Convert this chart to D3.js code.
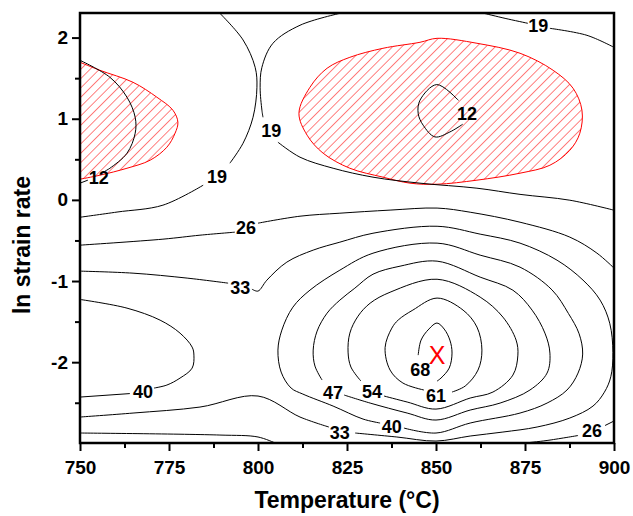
<!DOCTYPE html>
<html lang="en">
<head>
  <meta charset="UTF-8">
  <title>Processing map</title>
  <style>
    body { margin: 0; background: #fff; }
    text { font-family: "Liberation Sans", Arial, sans-serif; }
  </style>
</head>
<body>
  <svg id="svg" width="633" height="516"></svg>
  <script src="https://d3js.org/d3.v7.min.js"></script>
  <script>
    // axes: temperature (°C) and ln strain rate (ln 0.05 .. ln 10)
    const xDomain = [750, 900]
    const yDomain = [-2.996, 2.303]
    const xTicks = [750, 775, 800, 825, 850, 875, 900]
    const xMinor = [762.5, 787.5, 812.5, 837.5, 862.5, 887.5]
    const yTicks = [-2, -1, 0, 1, 2]
    const yMinor = [-2.5, -1.5, -0.5, 0.5, 1.5]

    // instability domains (hatched), [temperature, ln strain rate]
    const unstableLeft = [[750,1.696],[755.6,1.597],[764.9,1.449],[771.6,1.265],[776.1,1.105],[777.5,0.957],[776.7,0.821],[774.4,0.649],[769.7,0.489],[763.2,0.390],[755.6,0.304],[750,0.255]]
    const unstableRight = [[811.5,1.068],[814.6,1.388],[819.4,1.622],[825.8,1.757],[835.1,1.868],[845.5,1.942],[850.3,1.991],[861.5,1.930],[873.6,1.807],[882.9,1.597],[888.5,1.376],[891.0,1.105],[890.4,0.821],[887.6,0.612],[882.0,0.427],[873.6,0.329],[861.5,0.243],[850.3,0.193],[842.7,0.206],[835.1,0.280],[825.8,0.390],[818.3,0.575],[813.8,0.797]]

    // iso-efficiency lines, split where the value label sits
    const iso12a = [[750,1.720],[758.4,1.511],[763.2,1.265],[765.5,1.018],[765.5,0.821],[763.2,0.575],[758.4,0.390],[757.0,0.354]]
    const iso12b = [[752.2,0.243],[750,0.206]]
    const iso12c = [[856.3,1.226],[850.2,1.421],[845.5,1.228],[845.0,1.064],[846.4,0.920],[849.7,0.776],[853.9,0.837],[857.5,0.932]]
    const iso19a = [[789.3,2.299],[795.8,1.971],[799.2,1.634],[799.7,1.388],[798.6,1.018],[795.8,0.698],[792.1,0.452]]
    const iso19b = [[784.6,0.181],[773.3,-0.065],[760.4,-0.150],[750,-0.214]]
    const iso19c = [[823.0,2.299],[811.8,2.152],[804.2,1.930],[801.1,1.634],[800.6,1.388],[801.1,1.105],[801.4,1.018]]
    const iso19d = [[805.6,0.711],[811.8,0.526],[821.1,0.390],[832.3,0.280],[845.5,0.206],[861.5,0.144],[873.6,0.068],[887.6,-0.004],[900,-0.127]]
    const iso19e = [[863.5,2.299],[869.4,2.237],[875.8,2.176]]
    const iso19f = [[882.0,2.114],[892.4,2.028],[900,1.880]]
    const iso26a = [[750,-0.558],[773.3,-0.484],[783.7,-0.435],[793.5,-0.398]]
    const iso26b = [[800,-0.287],[811.8,-0.201],[823,-0.164],[837.1,-0.126],[850.3,-0.101],[859.6,-0.152],[873.6,-0.275],[887.6,-0.459],[895.2,-0.656],[900,-0.841]]
    const iso26c = [[750,-2.873],[789.3,-2.898],[800,-2.922],[804.8,-2.996]]
    const iso26d = [[875.0,-2.996],[881.2,-2.965],[889.9,-2.904]]
    const iso26e = [[897.5,-2.780],[900,-2.725]]
    const iso33a = [[750,-0.878],[764.9,-0.903],[780.1,-0.964],[791.6,-1.026]]
    const iso33b = [[798.3,-1.100],[800.0,-1.124],[802.5,-0.989],[808.1,-0.767],[815.5,-0.619],[823.0,-0.521],[832.3,-0.411],[850.3,-0.325],[862.4,-0.422],[873.6,-0.533],[884.0,-0.743],[891.3,-0.989],[896.1,-1.235],[898.8,-1.520],[899.7,-1.880],[899.1,-2.180],[897.3,-2.370],[894.1,-2.541],[887.6,-2.688],[878.4,-2.799],[868.8,-2.861],[859.6,-2.910],[850.0,-2.972],[839.0,-2.922],[827.3,-2.873]]
    const iso33c = [[819.9,-2.799],[811.8,-2.676],[800,-2.417],[783.7,-2.553],[764.9,-2.627],[750,-2.676]]
    const iso40a = [[750,-1.227],[763.2,-1.334],[772.5,-1.482],[778.1,-1.642],[781.5,-1.814],[782.0,-1.913],[781.5,-2.073],[778.1,-2.196],[774.4,-2.282],[770.8,-2.319]]
    const iso40b = [[764.0,-2.387],[750,-2.430]]
    const iso40c = [[841.0,-2.812],[850.0,-2.873],[859.6,-2.750],[873.6,-2.627],[881.2,-2.504],[886.8,-2.343],[889.9,-2.134],[891.2,-1.900],[890.2,-1.650],[887.2,-1.400],[882.6,-1.110],[873.6,-0.829],[862.4,-0.681],[850.3,-0.533],[832.3,-0.657],[823.0,-0.866],[814.6,-1.112],[809.8,-1.322],[806.7,-1.605],[805.6,-1.851],[806.5,-2.122],[809.3,-2.319],[812.6,-2.393],[821.1,-2.541],[829.5,-2.701],[834.3,-2.750]]
    const iso47 = [[818.0,-2.220],[816.0,-2.048],[815.5,-1.851],[816.6,-1.617],[819.4,-1.396],[823.0,-1.235],[827.2,-1.088],[832.3,-0.916],[839.9,-0.817],[850.3,-0.755],[862.4,-0.952],[871.6,-1.113],[877.0,-1.359],[880.6,-1.642],[882.0,-1.888],[881.2,-2.134],[876.4,-2.343],[868.0,-2.504],[859.6,-2.590],[850.0,-2.713],[841.9,-2.627],[831.5,-2.504],[824.2,-2.405]]
    const iso54 = [[828.9,-2.232],[826.1,-2.060],[825.3,-1.876],[825.8,-1.642],[828.1,-1.433],[831.5,-1.273],[837.1,-1.138],[850.3,-0.978],[862.4,-1.198],[868.8,-1.445],[872.5,-1.728],[873.0,-1.913],[871.6,-2.159],[866.0,-2.368],[859.6,-2.442],[850.0,-2.578],[841.9,-2.491],[835.4,-2.417]]
    const iso61 = [[846.6,-2.343],[840.7,-2.257],[837.1,-2.097],[835.7,-1.820],[837.6,-1.580],[839.4,-1.480],[843.5,-1.358],[850.3,-1.210],[857.6,-1.358],[861.5,-1.567],[862.9,-1.851],[861.8,-2.097],[858.2,-2.294],[854.5,-2.368]]
    const iso68 = [[845.0,-1.913],[845.8,-1.728],[848.0,-1.592],[850.3,-1.518],[852.3,-1.592],[853.9,-1.728],[854.5,-1.888],[853.7,-2.073],[851.4,-2.196],[850.3,-2.233]]

    const isoLines = [iso12a, iso12b, iso12c, iso19a, iso19b, iso19c, iso19d, iso19e, iso19f,
      iso26a, iso26b, iso26c, iso26d, iso26e, iso33a, iso33b, iso33c,
      iso40a, iso40b, iso40c, iso47, iso54, iso61, iso68]

    // value labels: [text, temperature, ln strain rate]
    const isoLabels = [
      ['12', 755.3, 0.280], ['12', 858.7, 1.066],
      ['19', 788.5, 0.292], ['19', 803.7, 0.858], ['19', 878.7, 2.152],
      ['26', 796.6, -0.336], ['26', 893.8, -2.848],
      ['33', 795.0, -1.076], ['33', 823.0, -2.861],
      ['40', 767.7, -2.356], ['40', 837.6, -2.799],
      ['47', 821.1, -2.368], ['54', 832.0, -2.356],
      ['61', 850.0, -2.417], ['68', 845.6, -2.085]
    ]
    const peak = [850, -1.91]

    const svg = d3.select('#svg')

    const x = d3.scaleLinear().domain(xDomain).range([80, 614])
    const y = d3.scaleLinear().domain(yDomain).range([443, 13])

    const defs = svg.append('defs')
    defs.append('clipPath').attr('id', 'plot')
      .append('rect')
      .attr('x', x(xDomain[0])).attr('y', y(yDomain[1]))
      .attr('width', x(xDomain[1]) - x(xDomain[0]))
      .attr('height', y(yDomain[0]) - y(yDomain[1]))

    const hatch = defs.append('pattern')
      .attr('id', 'hatch')
      .attr('patternUnits', 'userSpaceOnUse')
      .attr('width', 6.6).attr('height', 6.6)
      .attr('patternTransform', 'rotate(45)')
    hatch.append('line')
      .attr('x1', 0).attr('y1', 0).attr('x2', 0).attr('y2', 6.6)
      .attr('stroke', '#ff0000').attr('stroke-width', 1)

    const plot = svg.append('g').attr('clip-path', 'url(#plot)')

    const line = d3.line()
      .x(d => x(d[0]))
      .y(d => y(d[1]))
      .curve(d3.curveCatmullRom.alpha(0.5))

    const closedLine = d3.line()
      .x(d => x(d[0]))
      .y(d => y(d[1]))
      .curve(d3.curveCatmullRomClosed.alpha(0.5))

    // hatched regions
    plot.append('path')
      .attr('d', line(unstableLeft) + 'Z')
      .attr('fill', 'url(#hatch)')
      .attr('stroke', 'none')
    plot.append('path')
      .attr('d', line(unstableLeft))
      .attr('fill', 'none')
      .attr('stroke', '#ff0000')
      .attr('stroke-width', 1)
    plot.append('path')
      .attr('d', closedLine(unstableRight))
      .attr('fill', 'url(#hatch)')
      .attr('stroke', '#ff0000')
      .attr('stroke-width', 1)

    plot.selectAll('path.iso')
      .data(isoLines)
      .enter()
      .append('path')
      .attr('class', 'iso')
      .attr('d', d => line(d))
      .attr('fill', 'none')
      .attr('stroke', '#000')
      .attr('stroke-width', 1)

    plot.selectAll('text.lab')
      .data(isoLabels)
      .enter()
      .append('text')
      .attr('class', 'lab')
      .attr('x', d => x(d[1]))
      .attr('y', d => y(d[2]))
      .attr('dy', '0.36em')
      .attr('text-anchor', 'middle')
      .style('font-size', '18px')
      .style('font-weight', 'bold')
      .text(d => d[0])

    plot.append('text')
      .attr('x', x(peak[0]) + 1)
      .attr('y', y(peak[1]))
      .attr('dy', '0.36em')
      .attr('text-anchor', 'middle')
      .style('font-size', '25px')
      .attr('fill', '#ff0000')
      .text('X')

    // axes
    svg.append('g')
      .attr('transform', `translate(0,${y(yDomain[0])})`)
      .call(d3.axisBottom(x).tickValues(xTicks).tickSize(8).tickSizeOuter(0).tickPadding(10))
    svg.append('g')
      .attr('transform', `translate(0,${y(yDomain[0])})`)
      .call(d3.axisBottom(x).tickValues(xMinor).tickSize(5).tickSizeOuter(0).tickFormat(''))
    svg.append('g')
      .attr('transform', `translate(${x(xDomain[0])},0)`)
      .call(d3.axisLeft(y).tickValues(yTicks).tickSize(8).tickSizeOuter(0).tickPadding(4).tickFormat(d => String(d)))
    svg.append('g')
      .attr('transform', `translate(${x(xDomain[0])},0)`)
      .call(d3.axisLeft(y).tickValues(yMinor).tickSize(5).tickSizeOuter(0).tickFormat(''))

    svg.selectAll('.domain').remove()
    svg.selectAll('.tick line').attr('stroke', '#000').attr('stroke-width', 2)
    svg.selectAll('.tick text')
      .attr('fill', '#000')
      .style('font-family', '"Liberation Sans", Arial, sans-serif')
      .style('font-size', '19px')
      .style('font-weight', 'bold')

    svg.append('rect')
      .attr('x', x(xDomain[0])).attr('y', y(yDomain[1]))
      .attr('width', x(xDomain[1]) - x(xDomain[0]))
      .attr('height', y(yDomain[0]) - y(yDomain[1]))
      .attr('fill', 'none')
      .attr('stroke', '#000')
      .attr('stroke-width', 2.5)

    svg.append('text')
      .attr('x', (x(xDomain[0]) + x(xDomain[1])) / 2)
      .attr('y', 508)
      .attr('text-anchor', 'middle')
      .style('font-size', '23px')
      .style('font-weight', 'bold')
      .text('Temperature (°C)')

    svg.append('text')
      .attr('transform', `translate(30,${(y(yDomain[0]) + y(yDomain[1])) / 2 + 17}) rotate(-90)`)
      .attr('text-anchor', 'middle')
      .style('font-size', '23px')
      .style('font-weight', 'bold')
      .text('ln strain rate')
  </script>
</body>
</html>
